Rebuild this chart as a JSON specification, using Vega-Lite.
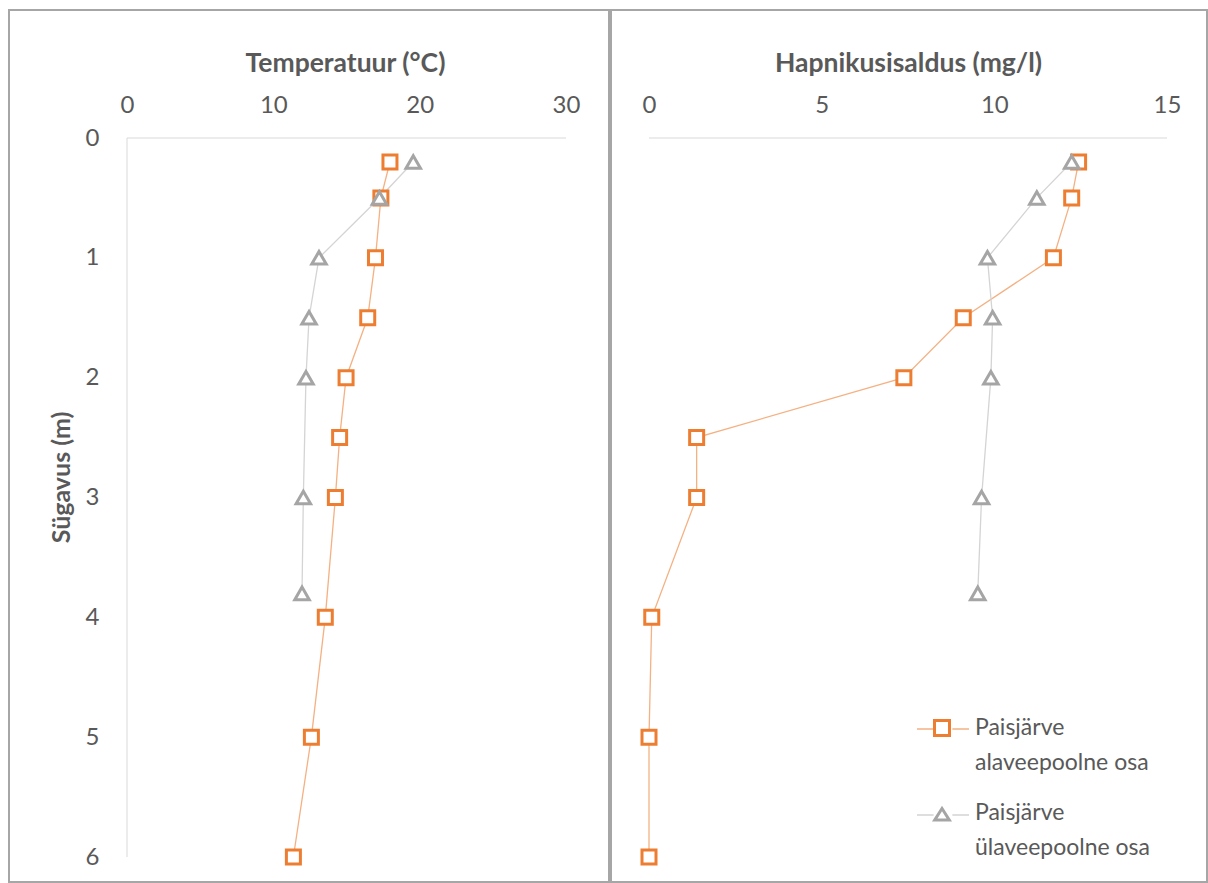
{
  "$schema": "https://vega.github.io/schema/vega-lite/v6.json",
  "padding": {"left": 8, "top": 9, "right": 0, "bottom": 0},
  "spacing": 0,
  "background": "white",
  "resolve": {"scale": {"color": "independent", "fill": "independent", "stroke": "independent", "shape": "independent"}},
  "config": {
    "font": "Lato",
    "view": {"stroke": "#a6a6a6", "strokeWidth": 2},
    "style": {"guide-label": {"lineHeight": 35}},
    "axis": {
      "grid": false, "domain": false, "ticks": false,
      "labelPadding": 0, "labelFont": "Lato", "labelFontSize": 24, "labelColor": "#595959",
      "labelFlush": false, "labelOverlap": false,
      "titleFont": "Lato", "titleFontSize": 26.5, "titleFontWeight": "bold", "titleColor": "#595959"
    }
  },
  "datasets": {
    "profile": [
      {"site": "Paisjärve alaveepoolne osa", "depth": 0.2, "temp": 17.97, "oxygen": 12.44},
      {"site": "Paisjärve alaveepoolne osa", "depth": 0.5, "temp": 17.35, "oxygen": 12.24},
      {"site": "Paisjärve alaveepoolne osa", "depth": 1.0, "temp": 16.98, "oxygen": 11.71},
      {"site": "Paisjärve alaveepoolne osa", "depth": 1.5, "temp": 16.45, "oxygen": 9.10},
      {"site": "Paisjärve alaveepoolne osa", "depth": 2.0, "temp": 14.97, "oxygen": 7.38},
      {"site": "Paisjärve alaveepoolne osa", "depth": 2.5, "temp": 14.53, "oxygen": 1.38},
      {"site": "Paisjärve alaveepoolne osa", "depth": 3.0, "temp": 14.24, "oxygen": 1.38},
      {"site": "Paisjärve alaveepoolne osa", "depth": 4.0, "temp": 13.55, "oxygen": 0.08},
      {"site": "Paisjärve alaveepoolne osa", "depth": 5.0, "temp": 12.60, "oxygen": 0.0},
      {"site": "Paisjärve alaveepoolne osa", "depth": 6.0, "temp": 11.37, "oxygen": 0.0},
      {"site": "Paisjärve ülaveepoolne osa", "depth": 0.2, "temp": 19.56, "oxygen": 12.24},
      {"site": "Paisjärve ülaveepoolne osa", "depth": 0.5, "temp": 17.25, "oxygen": 11.23},
      {"site": "Paisjärve ülaveepoolne osa", "depth": 1.0, "temp": 13.12, "oxygen": 9.80},
      {"site": "Paisjärve ülaveepoolne osa", "depth": 1.5, "temp": 12.44, "oxygen": 9.95},
      {"site": "Paisjärve ülaveepoolne osa", "depth": 2.0, "temp": 12.23, "oxygen": 9.90},
      {"site": "Paisjärve ülaveepoolne osa", "depth": 3.0, "temp": 12.05, "oxygen": 9.63},
      {"site": "Paisjärve ülaveepoolne osa", "depth": 3.8, "temp": 11.96, "oxygen": 9.52}
    ]
  },
  "hconcat": [
    {
      "width": 600,
      "height": 872,
      "layer": [
        {
          "data": {"values": [{}]},
          "mark": {"type": "rule", "color": "#d9d9d9", "strokeWidth": 1},
          "encoding": {
            "x": {"datum": 0, "type": "quantitative", "scale": {"domain": [-8.0638, 32.938], "nice": false, "zero": false},
              "axis": {"orient": "top", "values": [0, 10, 20, 30], "format": "d", "offset": -102, "labelBaseline": "alphabetic",
                "title": "Temperatuur (°C)", "titleX": 336, "titleY": -41, "titleBaseline": "alphabetic", "titleAlign": "center"}},
            "y": {"datum": 0, "type": "quantitative", "scale": {"domain": [-1.0682, 6.2086], "reverse": true, "nice": false, "zero": false},
              "axis": {"orient": "left", "values": [0, 1, 2, 3, 4, 5, 6], "format": "d", "offset": -90, "labelAlign": "right", "labelBaseline": "middle",
                "title": "Sügavus (m)", "titleFontSize": 25, "titleAngle": 270, "titleX": -30, "titleY": 467, "titleBaseline": "alphabetic", "titleAlign": "center"}},
            "y2": {"datum": 6}
          }
        },
        {
          "data": {"values": [{}]},
          "mark": {"type": "rule", "color": "#d9d9d9", "strokeWidth": 1},
          "encoding": {
            "x": {"datum": 0, "type": "quantitative"},
            "x2": {"datum": 30},
            "y": {"datum": 0, "type": "quantitative"}
          }
        },
        {
          "data": {"name": "profile"},
          "mark": {"type": "line", "strokeWidth": 1.3},
          "encoding": {
            "x": {"field": "temp", "type": "quantitative"},
            "y": {"field": "depth", "type": "quantitative"},
            "order": {"field": "depth", "type": "quantitative"},
            "color": {"field": "site", "type": "nominal", "scale": {"domain": ["Paisjärve ülaveepoolne osa", "Paisjärve alaveepoolne osa"], "range": ["#d4d4d4", "#f4b183"]}, "legend": null}
          }
        },
        {
          "data": {"name": "profile"},
          "transform": [{"filter": {"field": "site", "equal": "Paisjärve alaveepoolne osa"}}],
          "mark": {"type": "point", "shape": "square", "filled": true, "fill": "white", "stroke": "#ed7d31", "strokeWidth": 3, "size": 196, "opacity": 1},
          "encoding": {
            "x": {"field": "temp", "type": "quantitative"},
            "y": {"field": "depth", "type": "quantitative"}
          }
        },
        {
          "data": {"name": "profile"},
          "transform": [{"filter": {"field": "site", "equal": "Paisjärve ülaveepoolne osa"}}],
          "mark": {"type": "point", "shape": "triangle-up", "filled": true, "fill": "white", "stroke": "#a5a5a5", "strokeWidth": 3, "size": 210, "opacity": 1},
          "encoding": {
            "x": {"field": "temp", "type": "quantitative"},
            "y": {"field": "depth", "type": "quantitative"}
          }
        }
      ]
    },
    {
      "width": 596,
      "height": 872,
      "layer": [
        {
          "data": {"values": [{}]},
          "mark": {"type": "rule", "color": "#d9d9d9", "strokeWidth": 1},
          "encoding": {
            "x": {"datum": 0, "type": "quantitative", "scale": {"domain": [-1.1004, 16.158], "nice": false, "zero": false},
              "axis": {"orient": "top", "values": [0, 5, 10, 15], "format": "d", "offset": -102, "labelBaseline": "alphabetic",
                "title": "Hapnikusisaldus (mg/l)", "titleX": 297, "titleY": -41, "titleBaseline": "alphabetic", "titleAlign": "center"}},
            "x2": {"datum": 15},
            "y": {"datum": 0, "type": "quantitative", "scale": {"domain": [-1.0682, 6.2086], "reverse": true, "nice": false, "zero": false}, "axis": null}
          }
        },
        {
          "data": {"name": "profile"},
          "mark": {"type": "line", "strokeWidth": 1.3},
          "encoding": {
            "x": {"field": "oxygen", "type": "quantitative"},
            "y": {"field": "depth", "type": "quantitative"},
            "order": {"field": "depth", "type": "quantitative"},
            "color": {"field": "site", "type": "nominal", "scale": {"domain": ["Paisjärve ülaveepoolne osa", "Paisjärve alaveepoolne osa"], "range": ["#d4d4d4", "#f4b183"]},
              "legend": {
                "orient": "none", "legendX": 305, "legendY": 692, "title": null, "padding": 0,
                "values": ["Paisjärve alaveepoolne osa", "Paisjärve ülaveepoolne osa"],
                "symbolType": "M-1,0L-0.36,0M0.36,0L1,0", "symbolSize": 2704, "symbolStrokeWidth": 1.5, "symbolOpacity": 1,
                "labelFont": "Lato", "labelFontSize": 23, "labelColor": "#595959", "labelOpacity": 0, "labelOffset": 7, "labelLimit": 400,
                "rowPadding": 12,
                "labelExpr": "[substring(datum.label, 0, 9), substring(datum.label, 10)]"
              }}
          }
        },
        {
          "data": {"name": "profile"},
          "transform": [{"filter": {"field": "site", "equal": "Paisjärve alaveepoolne osa"}}],
          "mark": {"type": "point", "shape": "square", "filled": true, "fill": "white", "stroke": "#ed7d31", "strokeWidth": 3, "size": 196, "opacity": 1},
          "encoding": {
            "x": {"field": "oxygen", "type": "quantitative"},
            "y": {"field": "depth", "type": "quantitative"}
          }
        },
        {
          "data": {"name": "profile"},
          "transform": [{"filter": {"field": "site", "equal": "Paisjärve ülaveepoolne osa"}}],
          "mark": {"type": "point", "shape": "triangle-up", "filled": true, "fill": "white", "stroke": "#a5a5a5", "strokeWidth": 3, "size": 210, "opacity": 1},
          "encoding": {
            "x": {"field": "oxygen", "type": "quantitative"},
            "y": {"field": "depth", "type": "quantitative"}
          }
        },
        {
          "data": {"name": "profile"},
          "mark": {"type": "point", "filled": true, "size": 0, "opacity": 1, "strokeWidth": 0},
          "encoding": {
            "x": {"field": "oxygen", "type": "quantitative"},
            "y": {"field": "depth", "type": "quantitative"},
            "fill": {"field": "site", "type": "nominal", "scale": {"domain": ["Paisjärve alaveepoolne osa", "Paisjärve ülaveepoolne osa"], "range": ["#ed7d31", "#a5a5a5"]},
              "legend": {
                "orient": "none", "legendX": 305, "legendY": 692, "title": null, "padding": 0,
                "symbolSize": 2704, "symbolStrokeWidth": 0, "symbolOpacity": 1,
                "labelFont": "Lato", "labelFontSize": 23, "labelColor": "#595959", "labelOffset": 7, "labelLimit": 400,
                "rowPadding": 12,
                "labelExpr": "[substring(datum.label, 0, 9), substring(datum.label, 10)]"
              }},
            "shape": {"field": "site", "type": "nominal", "scale": {"domain": ["Paisjärve alaveepoolne osa", "Paisjärve ülaveepoolne osa"], "range": [
              "M-0.346,-0.346L0.346,-0.346L0.346,0.346L-0.346,0.346Z M-0.231,-0.231L-0.231,0.231L0.231,0.231L0.231,-0.231Z",
              "M0,-0.28L0.385,0.323L-0.385,0.323Z M0,-0.066L-0.175,0.208L0.175,0.208Z"
            ]}}
          }
        }
      ]
    }
  ]
}
